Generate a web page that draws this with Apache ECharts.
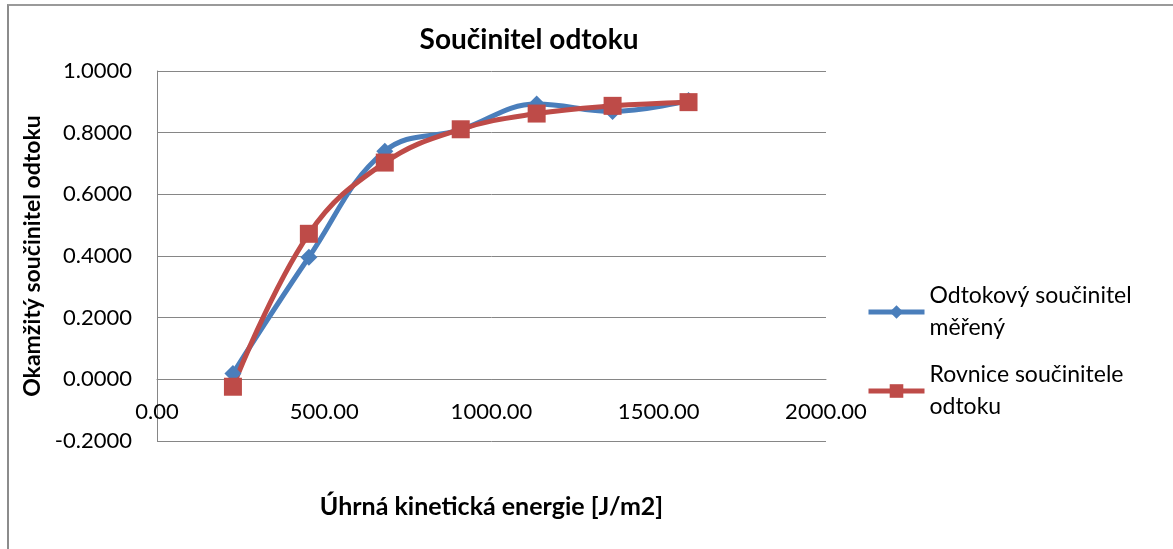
<!doctype html>
<html>
<head>
    <meta charset="utf-8">
    <title>Součinitel odtoku</title>
    <script src="https://cdn.jsdelivr.net/npm/echarts@6/dist/echarts.min.js"></script>
    <style>
        html, body { margin: 0; padding: 0; background: #fff; }
        #frame { position: absolute; left: 7px; top: 4px; width: 1166px; height: 543px;
                 border-left: 2px solid #8c8c8c; border-top: 2px solid #9a9a9a; border-bottom: 1px solid #c8c8c8; }
        #main { position: absolute; left: 0; top: 0; width: 1173px; height: 549px; }
    </style>
</head>
<body>
    <div id="frame"></div>
    <div id="main"></div>
<script type="text/javascript">
    // energie [J/m2]
    var energie = [227, 454, 681, 908, 1135, 1362, 1589];
    // odtokovy soucinitel mereny
    var mereny = [0.019, 0.396, 0.740, 0.810, 0.893, 0.869, 0.904];
    // rovnice soucinitele odtoku
    var rovnice = [-0.024, 0.472, 0.703, 0.811, 0.862, 0.887, 0.899];
    var nazvy = ['Odtokový součinitel\nměřený', 'Rovnice součinitele\nodtoku'];

    function pary(ys) {
        var out = [];
        for (var i = 0; i < energie.length; i++) {
            out.push([energie[i], ys[i]]);
        }
        return out;
    }

    var font = 'Lato, "Open Sans", sans-serif';
    var myChart = echarts.init(document.getElementById('main'));
    var option = {
        animation: false,
        textStyle: { fontFamily: font },
        title: {
            text: 'Součinitel odtoku',
            left: 524, top: 21, textAlign: 'center',
            textStyle: { fontFamily: font, fontSize: 28, fontWeight: 'bold', color: '#000' }
        },
        grid: { left: 157, right: 347, top: 71, bottom: 108, outerBoundsMode: 'none' },
        legend: {
            orient: 'vertical',
            left: 861, top: 259,
            itemWidth: 56, itemHeight: 17,
            itemGap: -17,
            lineStyle: { width: 5 },
            textStyle: { fontFamily: font, fontSize: 23, color: '#000', lineHeight: 32, padding: [32, 0, 0, 0] },
            data: nazvy
        },
        xAxis: {
            type: 'value',
            min: 0, max: 2000, interval: 500,
            offset: -62,
            name: 'Úhrná kinetická energie [J/m2]',
            nameLocation: 'middle', nameGap: 115,
            nameTextStyle: { fontFamily: font, fontSize: 25, fontWeight: 'bold', color: '#000' },
            axisLine: { onZero: false, lineStyle: { color: '#868686', width: 1 } },
            axisTick: { show: false },
            splitLine: { show: false },
            axisLabel: {
                fontFamily: font, fontSize: 22, color: '#000', margin: 22,
                formatter: function (v) { return v.toFixed(2); }
            }
        },
        yAxis: {
            type: 'value',
            min: -0.2, max: 1.0, interval: 0.2,
            name: 'Okamžitý součinitel odtoku',
            nameLocation: 'middle', nameGap: 108,
            nameTextStyle: { fontFamily: font, fontSize: 23, fontWeight: 'bold', color: '#000' },
            axisLine: { show: true, onZero: false, lineStyle: { color: '#868686', width: 1 } },
            axisTick: { show: false },
            splitLine: { lineStyle: { color: '#868686', width: 1 } },
            axisLabel: {
                fontFamily: font, fontSize: 22, color: '#000', margin: 25,
                formatter: function (v) { return v.toFixed(4); }
            }
        },
        series: [
            {
                name: nazvy[0], type: 'line', smooth: 0.4,
                data: pary(mereny),
                symbol: 'diamond', symbolSize: 17,
                itemStyle: { color: '#4a7ebb' },
                lineStyle: { color: '#4a7ebb', width: 5 }
            },
            {
                name: nazvy[1], type: 'line', smooth: 0.4,
                data: pary(rovnice),
                symbol: 'rect', symbolSize: 18,
                itemStyle: { color: '#be4b48' },
                lineStyle: { color: '#be4b48', width: 5 }
            }
        ]
    };
    myChart.setOption(option);
</script>
</body>
</html>
